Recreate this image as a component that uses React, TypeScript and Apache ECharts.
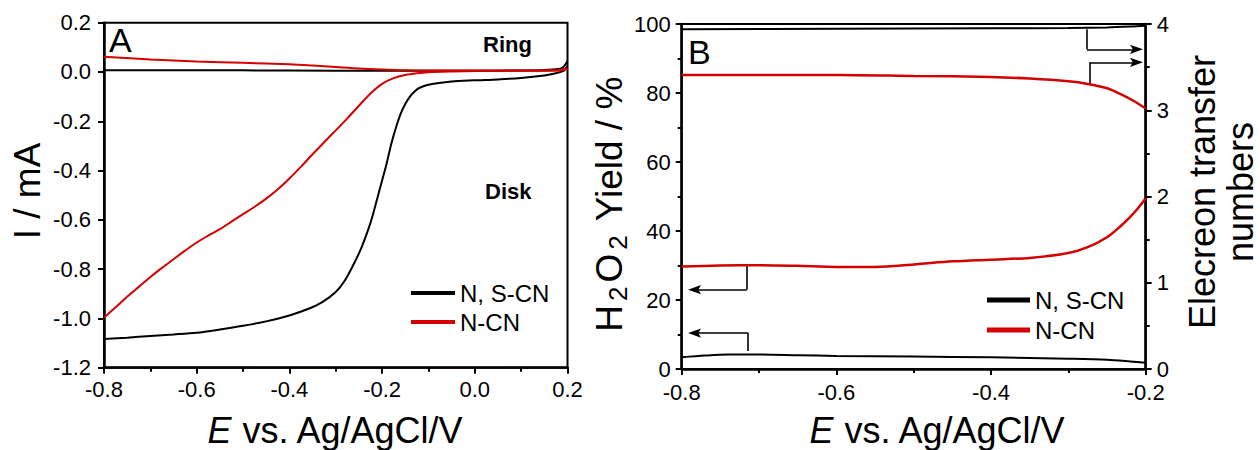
import React, { useEffect, useRef } from "react";
import * as echarts from "echarts";

const BLACK = "#000000";
const RED = "#d40000";
const FONT = "'Liberation Sans', Arial, Helvetica, sans-serif";

// ---- Panel A: RRDE polarisation curves, E (V vs Ag/AgCl) vs I (mA) ----
const diskNSCN: [number, number][] = [
  [-0.8, -1.084], [-0.75, -1.078], [-0.7, -1.071], [-0.65, -1.065], [-0.6, -1.058],
  [-0.55, -1.045], [-0.5, -1.03], [-0.45, -1.012], [-0.4, -0.988], [-0.36, -0.962],
  [-0.33, -0.935], [-0.3, -0.893], [-0.28, -0.845], [-0.26, -0.775], [-0.245, -0.715],
  [-0.23, -0.64], [-0.22, -0.58], [-0.21, -0.51], [-0.2, -0.44], [-0.19, -0.37],
  [-0.18, -0.29], [-0.17, -0.225], [-0.16, -0.17], [-0.15, -0.13], [-0.14, -0.1],
  [-0.13, -0.079], [-0.12, -0.065], [-0.1, -0.052], [-0.05, -0.039], [0.0, -0.034],
  [0.05, -0.03], [0.1, -0.024], [0.15, -0.014], [0.17, -0.007], [0.19, 0.003], [0.2, 0.024],
];

const ringNSCN: [number, number][] = [
  [-0.8, 0.007], [-0.6, 0.007], [-0.4, 0.006], [-0.2, 0.005], [0.0, 0.005],
  [0.1, 0.006], [0.15, 0.008], [0.18, 0.012], [0.19, 0.018], [0.2, 0.045],
];

const diskNCN: [number, number][] = [
  [-0.8, -0.997], [-0.775, -0.955], [-0.75, -0.912], [-0.725, -0.872], [-0.7, -0.832],
  [-0.675, -0.795], [-0.65, -0.76], [-0.625, -0.725], [-0.6, -0.692], [-0.575, -0.664],
  [-0.55, -0.638], [-0.525, -0.607], [-0.5, -0.577], [-0.475, -0.547], [-0.45, -0.514],
  [-0.425, -0.476], [-0.4, -0.432], [-0.375, -0.384], [-0.35, -0.334], [-0.325, -0.285],
  [-0.3, -0.237], [-0.275, -0.188], [-0.25, -0.137], [-0.225, -0.087], [-0.2, -0.048],
  [-0.175, -0.025], [-0.15, -0.012], [-0.125, -0.005], [-0.1, -0.001], [-0.05, 0.002],
  [0.0, 0.004], [0.1, 0.005], [0.18, 0.006], [0.2, 0.012],
];

const ringNCN: [number, number][] = [
  [-0.8, 0.062], [-0.7, 0.051], [-0.6, 0.043], [-0.5, 0.037], [-0.4, 0.031],
  [-0.35, 0.026], [-0.3, 0.02], [-0.25, 0.014], [-0.2, 0.01], [-0.15, 0.007],
  [-0.1, 0.006], [0.0, 0.006], [0.1, 0.006], [0.18, 0.007], [0.2, 0.014],
];

// ---- Panel B: H2O2 yield (%) and electron transfer number vs E ----
const yieldNSCN: [number, number][] = [
  [-0.8, 3.4], [-0.77, 3.9], [-0.74, 4.2], [-0.7, 4.2], [-0.65, 4.0], [-0.6, 3.8],
  [-0.5, 3.6], [-0.4, 3.4], [-0.3, 3.0], [-0.25, 2.7], [-0.22, 2.2], [-0.2, 1.8],
];

const yieldNCN: [number, number][] = [
  [-0.8, 29.7], [-0.75, 30.0], [-0.7, 30.1], [-0.65, 29.9], [-0.6, 29.6], [-0.55, 29.6],
  [-0.5, 30.3], [-0.45, 31.2], [-0.4, 31.7], [-0.35, 32.2], [-0.3, 33.6], [-0.275, 35.3],
  [-0.25, 38.2], [-0.233, 41.3], [-0.22, 44.1], [-0.21, 46.6], [-0.2, 49.5],
];

const electronsNSCN: [number, number][] = [
  [-0.8, 3.94], [-0.6, 3.945], [-0.4, 3.95], [-0.3, 3.955], [-0.25, 3.96], [-0.22, 3.97], [-0.2, 3.98],
];

const electronsNCN: [number, number][] = [
  [-0.8, 3.41], [-0.7, 3.41], [-0.6, 3.41], [-0.5, 3.398], [-0.4, 3.386], [-0.35, 3.367],
  [-0.3, 3.335], [-0.275, 3.305], [-0.25, 3.255], [-0.233, 3.19], [-0.216, 3.11], [-0.2, 3.02],
];

// Pointer arrows (data units): stems are plain, heads end in an arrowhead
const yieldArrowStems: [number, number][][] = [
  [[-0.716, 29.9], [-0.716, 23.0]],
  [[-0.714, 5.2], [-0.714, 10.4]],
];
const yieldArrowHeads: [number, number][][] = [
  [[-0.716, 23.0], [-0.7834, 23.0]],
  [[-0.714, 10.4], [-0.7834, 10.4]],
];
const electronArrowStems: [number, number][][] = [
  [[-0.276, 3.94], [-0.276, 3.707]],
  [[-0.2725, 3.31], [-0.2725, 3.556]],
];
const electronArrowHeads: [number, number][][] = [
  [[-0.276, 3.707], [-0.2119, 3.707]],
  [[-0.2725, 3.556], [-0.2119, 3.556]],
];

const legendNames = ["N, S-CN", "N-CN"];

const ARROW_PATH = "path://M0,0 M14,14 M7,0 L12,14 L7,11 L2,14 Z";

const fmt1 = (v: number) => (Math.abs(v) < 1e-9 ? 0 : v).toFixed(1);

const labelBase = { color: BLACK, fontSize: 22, fontFamily: FONT, lineHeight: 16 };

function axisBase(extra: any) {
  return {
    type: "value",
    axisLine: { show: true, onZero: false, lineStyle: { color: BLACK, width: 2.5 } },
    axisTick: { show: true, inside: false, length: 6, lineStyle: { color: BLACK, width: 2 } },
    splitLine: { show: false },
    ...extra,
  };
}

const minor = { show: true, splitNumber: 2, length: 4, lineStyle: { color: BLACK, width: 2 } };

function curve(name: string, data: [number, number][], color: string, xi: number, yi: number, width = 2) {
  return {
    type: "line",
    name,
    data,
    xAxisIndex: xi,
    yAxisIndex: yi,
    showSymbol: false,
    symbol: "none",
    smooth: 0.3,
    silent: true,
    itemStyle: { color },
    lineStyle: { color, width },
  };
}

function arrows(data: [number, number][][], yi: number, head: boolean) {
  return {
    type: "lines",
    coordinateSystem: "cartesian2d",
    xAxisIndex: 1,
    yAxisIndex: yi,
    silent: true,
    symbol: head ? ["none", ARROW_PATH] : ["none", "none"],
    symbolSize: head ? [0, 13] : [0, 0],
    lineStyle: { color: BLACK, width: 1.6, opacity: 1, curveness: 0 },
    itemStyle: { color: BLACK },
    data: data.map((coords) => ({ coords })),
  };
}

function buildOption(): any {
  return {
    animation: false,
    backgroundColor: "#ffffff",
    textStyle: { fontFamily: FONT },
    grid: [
      { left: 104, top: 22.7, width: 463.5, height: 345, show: true, borderColor: BLACK, borderWidth: 2, containLabel: false },
      { left: 681.7, top: 24, width: 464, height: 345, show: true, borderColor: BLACK, borderWidth: 2, containLabel: false },
    ],
    xAxis: [
      axisBase({
        gridIndex: 0, min: -0.8, max: 0.2, interval: 0.2,
        minorTick: minor,
        axisLabel: { ...labelBase, margin: 14, formatter: fmt1 },
      }),
      axisBase({
        gridIndex: 1, min: -0.8, max: -0.2, interval: 0.2,
        minorTick: minor,
        axisLabel: { ...labelBase, margin: 15, formatter: fmt1 },
      }),
    ],
    yAxis: [
      axisBase({
        gridIndex: 0, min: -1.2, max: 0.2, interval: 0.2,
        axisLabel: { ...labelBase, margin: 13, formatter: fmt1 },
      }),
      axisBase({
        gridIndex: 1, position: "left", min: 0, max: 100, interval: 20,
        minorTick: minor,
        axisLabel: { ...labelBase, margin: 11 },
      }),
      axisBase({
        gridIndex: 1, position: "right", min: 0, max: 4, interval: 1,
        minorTick: minor,
        axisLabel: { ...labelBase, margin: 11 },
      }),
    ],
    legend: [
      {
        data: legendNames, orient: "vertical", left: 406, top: 276,
        itemWidth: 44, itemHeight: 4, itemGap: 5, icon: "rect", selectedMode: false,
        textStyle: { color: BLACK, fontSize: 24, fontFamily: FONT, lineHeight: 24 },
      },
      {
        data: legendNames, orient: "vertical", left: 982, top: 283,
        itemWidth: 43, itemHeight: 5, itemGap: 6, icon: "rect", selectedMode: false,
        textStyle: { color: BLACK, fontSize: 24, fontFamily: FONT, lineHeight: 24 },
      },
    ],
    series: [
      curve("N, S-CN", diskNSCN, BLACK, 0, 0),
      curve("N, S-CN", ringNSCN, BLACK, 0, 0),
      curve("N-CN", diskNCN, RED, 0, 0),
      curve("N-CN", ringNCN, RED, 0, 0),
      curve("N, S-CN", electronsNSCN, BLACK, 1, 2),
      curve("N, S-CN", yieldNSCN, BLACK, 1, 1),
      curve("N-CN", electronsNCN, RED, 1, 2, 2.5),
      curve("N-CN", yieldNCN, RED, 1, 1, 2.5),
      arrows(yieldArrowStems, 1, false),
      arrows(yieldArrowHeads, 1, true),
      arrows(electronArrowStems, 2, false),
      arrows(electronArrowHeads, 2, true),
    ],
    graphic: [
      { type: "text", x: 109, y: 40, silent: true, style: { text: "A", fontSize: 34, fontFamily: FONT, fill: BLACK, verticalAlign: "middle" } },
      { type: "text", x: 483, y: 44, silent: true, style: { text: "Ring", fontSize: 22, fontWeight: "bold", fontFamily: FONT, fill: BLACK, verticalAlign: "middle" } },
      { type: "text", x: 485, y: 191, silent: true, style: { text: "Disk", fontSize: 22, fontWeight: "bold", fontFamily: FONT, fill: BLACK, verticalAlign: "middle" } },
      { type: "text", x: 688, y: 52, silent: true, style: { text: "B", fontSize: 34, fontFamily: FONT, fill: BLACK, verticalAlign: "middle" } },
      {
        type: "text", x: 27, y: 191, rotation: Math.PI / 2, silent: true,
        style: { text: "I / mA", fontSize: 37, fontFamily: FONT, fill: BLACK, align: "center", verticalAlign: "middle" },
      },
      {
        type: "text", x: 609, y: 204, rotation: Math.PI / 2, silent: true,
        style: {
          text: "{m|H}{s|2}{m|O}{s|2}{m| Yield / %}",
          fontSize: 37, fontFamily: FONT, fill: BLACK, align: "center", verticalAlign: "middle",
          rich: {
            m: { fontSize: 37, fontFamily: FONT, lineHeight: 44, fill: BLACK },
            s: { fontSize: 26, fontFamily: FONT, lineHeight: 14, verticalAlign: "bottom", padding: [0, 4], fill: BLACK },
          },
        },
      },
      {
        type: "text", x: 1221, y: 192, rotation: Math.PI / 2, silent: true,
        style: {
          text: "Elecreon transfer\nnumbers",
          fontSize: 36, fontFamily: FONT, fill: BLACK, align: "center", verticalAlign: "middle", lineHeight: 38,
        },
      },
      {
        type: "text", x: 335.5, y: 430, silent: true,
        style: {
          text: "{it|E} vs. Ag/AgCl/V",
          fontSize: 36, fontFamily: FONT, fill: BLACK, align: "center", verticalAlign: "middle",
          rich: { it: { fontSize: 36, fontFamily: FONT, fontStyle: "italic", fill: BLACK } },
        },
      },
      {
        type: "text", x: 937.5, y: 430, silent: true,
        style: {
          text: "{it|E} vs. Ag/AgCl/V",
          fontSize: 36, fontFamily: FONT, fill: BLACK, align: "center", verticalAlign: "middle",
          rich: { it: { fontSize: 36, fontFamily: FONT, fontStyle: "italic", fill: BLACK } },
        },
      },
    ],
  };
}

export default function App() {
  const ref = useRef<HTMLDivElement>(null);
  useEffect(() => {
    document.body.style.margin = "0";
    if (!ref.current) return;
    const chart = echarts.init(ref.current, null, { renderer: "svg" });
    chart.setOption(buildOption());
    return () => chart.dispose();
  }, []);
  return <div ref={ref} style={{ width: 1260, height: 450, background: "#fff" }} />;
}
